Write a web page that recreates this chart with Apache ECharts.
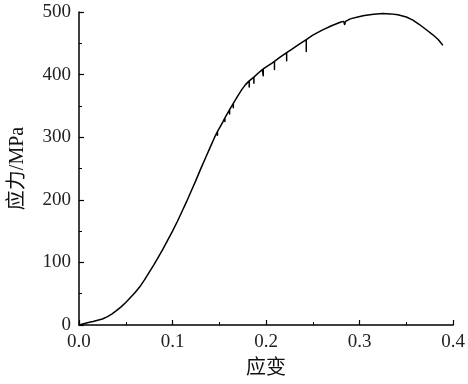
<!DOCTYPE html>
<html>
<head>
<meta charset="utf-8">
<script src="https://cdn.jsdelivr.net/npm/echarts@6/dist/echarts.min.js"></script>
<style>
html,body{margin:0;padding:0;background:#fff;}
#c{width:468px;height:384px;}
</style>
</head>
<body>
<div id="c"></div>
<script>
// strain (x) and stress in MPa (y); repeated x values are the serration spikes
var strain = [0, 0.005, 0.01, 0.015, 0.02, 0.025, 0.03, 0.035, 0.04, 0.045, 0.05, 0.055, 0.06, 0.065, 0.07, 0.075, 0.08, 0.085, 0.09, 0.095,
  0.1, 0.105, 0.11, 0.115, 0.12, 0.125, 0.13, 0.135, 0.14, 0.145,
  0.148, 0.148, 0.148, 0.154, 0.156, 0.156, 0.156, 0.161, 0.161, 0.161, 0.165, 0.165, 0.165, 0.169,
  0.170, 0.170, 0.170, 0.174, 0.178, 0.182, 0.182, 0.182, 0.187, 0.187, 0.187, 0.189, 0.192, 0.196, 0.197, 0.197, 0.197,
  0.201, 0.206, 0.209, 0.209, 0.209, 0.215, 0.222, 0.222, 0.222, 0.227, 0.232, 0.238, 0.243, 0.243, 0.243,
  0.25, 0.26, 0.27, 0.28, 0.283, 0.284, 0.285,
  0.29, 0.298, 0.305, 0.315, 0.325, 0.333, 0.341, 0.35, 0.357, 0.364, 0.371, 0.378, 0.384, 0.389];
var stress = [0, 2, 4, 5.5, 7.5, 9.5, 13, 17.5, 23, 29, 36, 44, 52, 61, 72, 84, 96, 109, 122, 136,
  150, 165, 181, 197, 214, 231, 249, 266, 283, 300,
  309, 303, 309, 325, 331, 325, 331, 344, 337, 344, 354, 347, 354, 364,
  367, 361, 367, 376, 384, 390, 380, 390, 396, 386, 396, 399, 403, 408, 409, 398, 409,
  413, 418, 421, 408, 421, 428, 435, 422, 435, 440, 445, 451, 456, 437, 456,
  463, 471, 478, 484, 485, 480, 485,
  489, 492, 494.5, 496.5, 497.5, 497, 495.5, 492, 487, 480, 472, 464, 456, 447];
var xTicks = [0, 0.1, 0.2, 0.3, 0.4];
var yTicks = [0, 100, 200, 300, 400, 500];
var xName = '应变';
var yName = '应力/MPa';

var pts = strain.map(function (s, i) { return [s, stress[i]]; });
var font = '"Liberation Serif", "Times New Roman", "Noto Sans CJK SC", serif';
var chart = echarts.init(document.getElementById('c'), null, {renderer: 'canvas'});
var axisCommon = {
  axisLine: {show: true, onZero: false, lineStyle: {color: '#000', width: 1.5}},
  axisTick: {show: true, inside: true, length: 5, lineStyle: {color: '#000', width: 1.2}},
  minorTick: {show: true, splitNumber: 2, length: 3, lineStyle: {color: '#000', width: 1}},
  splitLine: {show: false},
  nameLocation: 'middle',
  nameTextStyle: {fontFamily: font, fontSize: 20, color: '#111'}
};
chart.setOption({
  animation: false,
  backgroundColor: '#fff',
  grid: {left: 74, right: 14, top: 12, bottom: 58},
  xAxis: Object.assign({}, axisCommon, {
    type: 'value', min: xTicks[0], max: xTicks[xTicks.length - 1], interval: 0.1,
    name: xName, nameGap: 34,
    axisLabel: {fontFamily: font, fontSize: 19, color: '#222', margin: 8,
      formatter: function (v) { return v.toFixed(1); }}
  }),
  yAxis: Object.assign({}, axisCommon, {
    type: 'value', min: yTicks[0], max: yTicks[yTicks.length - 1], interval: 100,
    name: yName, nameGap: 51, nameRotate: 90,
    axisLabel: {fontFamily: font, fontSize: 19, color: '#222', margin: 8}
  }),
  series: [{
    type: 'line', data: pts, showSymbol: false, symbol: 'none',
    lineStyle: {color: '#000', width: 1.5, join: 'round'}
  }]
});
</script>
</body>
</html>
